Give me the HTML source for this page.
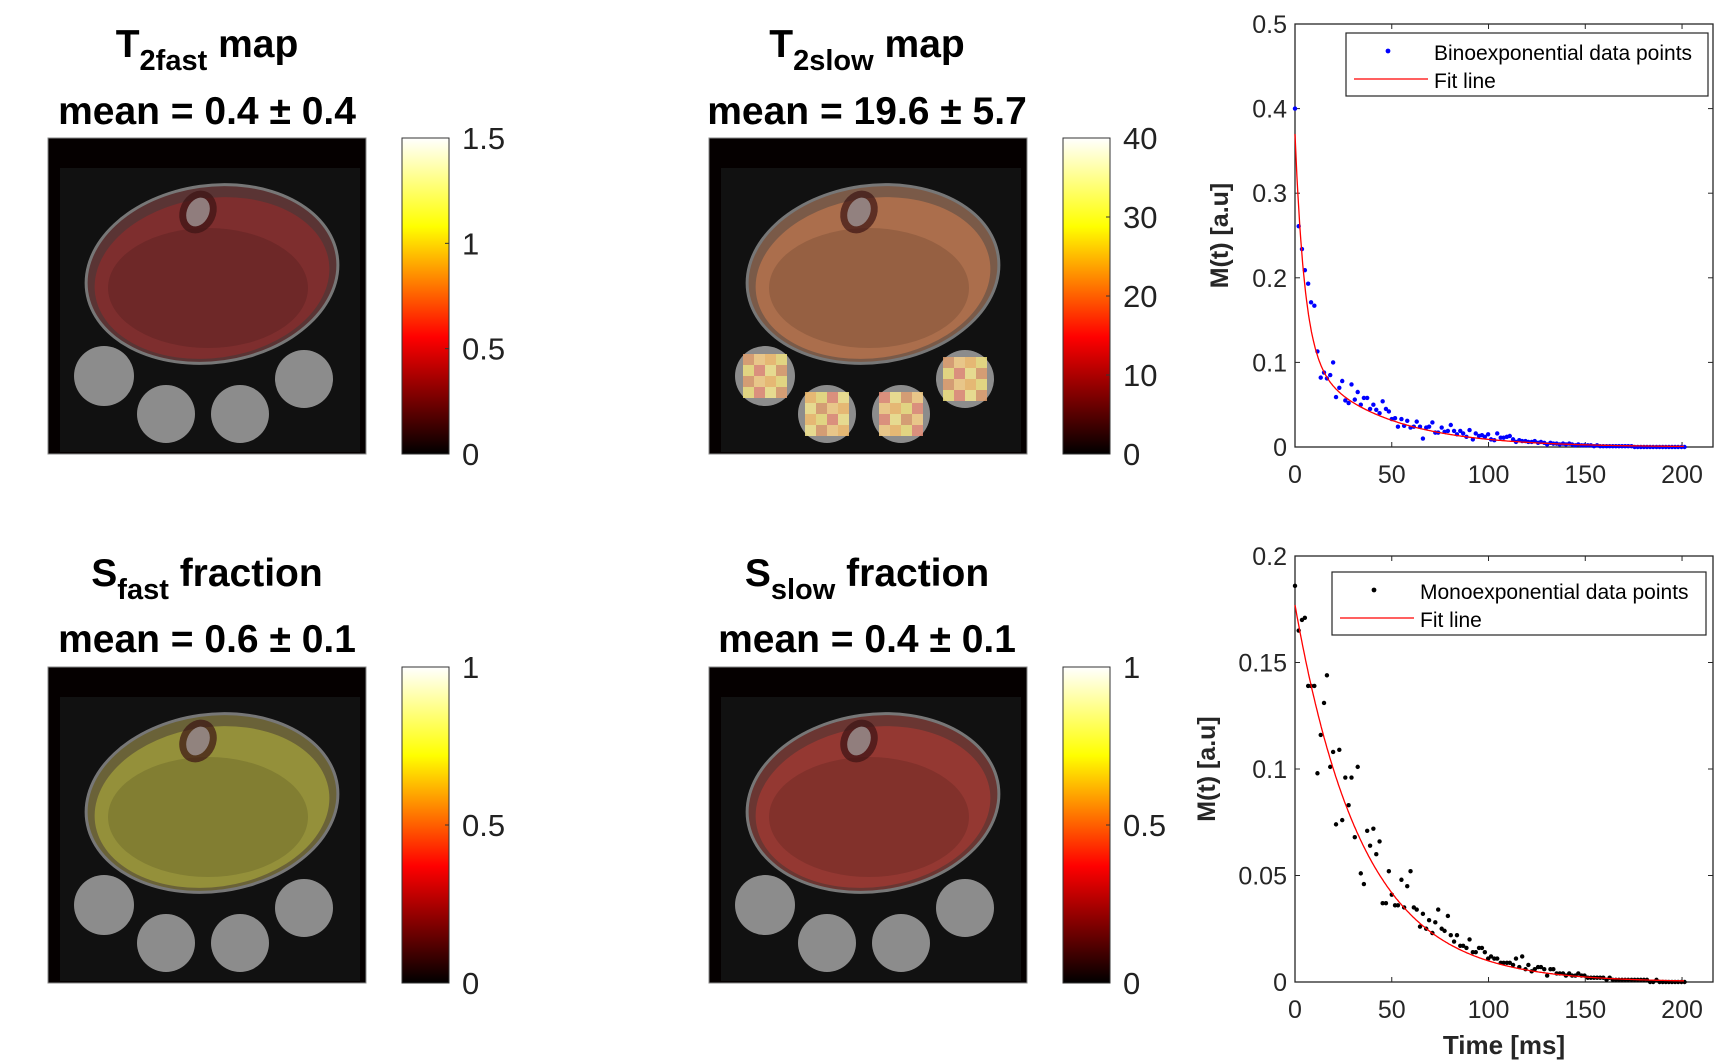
<!DOCTYPE html>
<html><head><meta charset="utf-8"><style>
html,body{margin:0;padding:0;background:#fff;}
svg{display:block;font-family:"Liberation Sans",sans-serif;}
</style></head><body>
<svg id="fig" width="1724" height="1063" viewBox="0 0 1724 1063" xmlns="http://www.w3.org/2000/svg">
<defs>
<linearGradient id="hot" x1="0" y1="1" x2="0" y2="0">
<stop offset="0" stop-color="#000"/><stop offset="0.37" stop-color="#ff0000"/><stop offset="0.72" stop-color="#ffff00"/><stop offset="1" stop-color="#ffffff"/>
</linearGradient>
</defs>
<g id="panels"></g>
<g id="charts"></g>
</svg>
<script>
// ---------------- chart data ----------------
const biTimes = [0,1.9,3.6,5.1,6.8,8.3,10,11.6,13.3,15,16.5,18.2,19.7,21.2,22.9,24.4,26,27.7,29.2,30.9,32.4,34,35.6,37.3,38.8,40.5,42,43.7,45.3,47,48.5,50,51.7,53.2,55,56.4,58,59.7,61.4,62.9,64.6,66.1,67.8,69.3,71,72.5,74,75.8,77.3,79,80.5,82.2,83.7,85.4,86.9,88.6,90.2,91.9,93.4,95.1,96.6,98.1,99.8,101.3,103,104.5,106.3,107.8,109.5,111,112.7,114.2,115.9,117.4,119.1,120.6,122.3,123.9,125.6,127.1,128.8,130.3,132,133.5,135.2,136.8,138.5,140,141.7,143.2,144.9,146.4,148.1,149.6,151.3,152.9,154.5,156.1,157.7,159.3,161,162.6,164.2,165.8,167.4,169,170.6,172.2,173.9,175.5,177.1,178.7,180.3,181.9,183.5,185.1,186.8,188.4,190,191.6,193.2,194.8,196.4,198,199.7,201.3];
const biValues = [0.4,0.261,0.234,0.209,0.193,0.171,0.167,0.113,0.082,0.088,0.081,0.085,0.1,0.059,0.07,0.078,0.055,0.052,0.074,0.056,0.065,0.05,0.058,0.058,0.045,0.05,0.044,0.04,0.054,0.045,0.042,0.033,0.034,0.024,0.033,0.025,0.031,0.023,0.024,0.03,0.024,0.01,0.023,0.024,0.029,0.017,0.017,0.023,0.018,0.019,0.026,0.019,0.015,0.019,0.016,0.012,0.02,0.009,0.016,0.013,0.014,0.012,0.015,0.009,0.008,0.016,0.011,0.011,0.012,0.013,0.009,0.006,0.008,0.007,0.007,0.006,0.006,0.007,0.005,0.006,0.005,0.003,0.005,0.004,0.004,0.003,0.004,0.003,0.004,0.003,0.002,0.003,0.002,0.002,0.002,0.002,0.001,0.002,0.001,0.001,0.001,0.001,0.001,0.001,0.001,0.001,0.001,0.001,0.001,0,0,0,0,0,0,0,0,0,0,0,0,0,0,0,0,0];
const biFit = [0.26,5,0.11,40]; // A1, T1, A2, T2
const monoTimes = [0,1.9,3.6,5.1,6.8,8.3,10,11.6,13.3,15,16.5,18.2,19.7,21.2,22.9,24.4,26,27.7,29.2,30.9,32.4,34,35.6,37.3,38.8,40.5,42,43.7,45.3,47,48.5,50,51.7,53.2,55,56.4,58,59.7,61.4,62.9,64.6,66.1,67.8,69.3,71,72.5,74,75.8,77.3,79,80.5,82.2,83.7,85.4,86.9,88.6,90.2,91.9,93.4,95.1,96.6,98.1,99.8,101.3,103,104.5,106.3,107.8,109.5,111,112.7,114.2,115.9,117.4,119.1,120.6,122.3,123.9,125.6,127.1,128.8,130.3,132,133.5,135.2,136.8,138.5,140,141.7,143.2,144.9,146.4,148.1,149.6,151.3,152.9,154.5,156.1,157.7,159.3,161,162.6,164.2,165.8,167.4,169,170.6,172.2,173.9,175.5,177.1,178.7,180.3,181.9,183.5,185.1,186.8,188.4,190,191.6,193.2,194.8,196.4,198,199.7,201.3];
const monoValues = [0.186,0.165,0.17,0.171,0.139,0.139,0.139,0.098,0.116,0.131,0.144,0.101,0.108,0.074,0.109,0.076,0.096,0.083,0.096,0.068,0.101,0.051,0.046,0.071,0.064,0.072,0.06,0.066,0.037,0.037,0.052,0.041,0.036,0.036,0.048,0.035,0.045,0.052,0.035,0.034,0.026,0.032,0.025,0.029,0.023,0.028,0.034,0.025,0.024,0.031,0.022,0.019,0.022,0.017,0.017,0.016,0.02,0.014,0.014,0.016,0.016,0.014,0.011,0.012,0.011,0.011,0.009,0.009,0.009,0.009,0.008,0.011,0.007,0.012,0.006,0.008,0.005,0.006,0.007,0.007,0.006,0.003,0.006,0.006,0.004,0.004,0.004,0.003,0.004,0.003,0.003,0.004,0.003,0.003,0.002,0.002,0.002,0.002,0.002,0.002,0.001,0.002,0.001,0.001,0.001,0.001,0.001,0.001,0.001,0.001,0.001,0.001,0.001,0.001,0,0,0.001,0,0,0,0,0,0,0,0,0];
const monoFit = [0.177,34.7]; // A, T
const xTicks = [0,50,100,150,200];
const topYTicks = [0,0.1,0.2,0.3,0.4,0.5];
const botYTicks = [0,0.05,0.1,0.15,0.2];
const topYLabels = ["0","0.1","0.2","0.3","0.4","0.5"];
const botYLabels = ["0","0.05","0.1","0.15","0.2"];

const NS="http://www.w3.org/2000/svg";
function mk(tag, attrs, parent){const e=document.createElementNS(NS,tag);for(const k in attrs)e.setAttribute(k,attrs[k]);if(parent)parent.appendChild(e);return e;}

// ---------------- image panels ----------------
const panels=document.getElementById('panels');
const panelDefs=[
 {x:48,y:138,cb:402,title:"T",sub:"2fast",rest:" map",mean:"mean = 0.4 \u00b1 0.4",ty:57,my:124,cx:207,legC:"#5a3434",ov:"rgba(170,40,40,0.45)",ticks:["0","0.5","1","1.5"],circ:"#8a8a8a",name:"t2fast"},
 {x:709,y:138,cb:1063,title:"T",sub:"2slow",rest:" map",mean:"mean = 19.6 \u00b1 5.7",ty:57,my:124,cx:867,legC:"#7a5a48",ov:"rgba(220,130,80,0.5)",ticks:["0","10","20","30","40"],circ:"hot",name:"t2slow"},
 {x:48,y:667,cb:402,title:"S",sub:"fast",rest:" fraction",mean:"mean = 0.6 \u00b1 0.1",ty:586,my:652,cx:207,legC:"#6a6238",ov:"rgba(190,190,60,0.5)",ticks:["0","0.5","1"],circ:"#8a8a8a",name:"sfast"},
 {x:709,y:667,cb:1063,title:"S",sub:"slow",rest:" fraction",mean:"mean = 0.4 \u00b1 0.1",ty:586,my:652,cx:867,legC:"#6a3632",ov:"rgba(200,60,50,0.45)",ticks:["0","0.5","1"],circ:"#8a8a8a",name:"sslow"}
];
const hotPal=["#f4c070","#f0e080","#e8907a","#f6e890","#e0a070","#f8d088"];
panelDefs.forEach(p=>{
 const g=mk('g',{},panels);
 
 
 const t=mk('text',{x:p.cx,y:p.ty,'text-anchor':'middle','font-size':39,'font-weight':'bold',fill:'#000'},g);
 
 
 t.appendChild(document.createTextNode(p.title));
 const s=mk('tspan',{dy:13,'font-size':29},t);s.textContent=p.sub;
 const r=mk('tspan',{dy:-13},t);r.textContent=p.rest;
 const m=mk('text',{x:p.cx,y:p.my,'text-anchor':'middle','font-size':39,'font-weight':'bold',fill:'#000'},g);
 
 
 m.textContent=p.mean;
 const img=mk('g',{transform:`translate(${p.x},${p.y})`},g);
 
 
 mk('rect',{x:0,y:0,width:318,height:316,fill:'#050000',stroke:'#888','stroke-width':1},img);
 mk('rect',{x:12,y:30,width:300,height:284,fill:'#111'},img);
 mk('ellipse',{cx:164,cy:136,rx:128,ry:90,fill:'#777',transform:'rotate(-8 164 136)'},img);
 mk('ellipse',{cx:164,cy:136,rx:125,ry:87,fill:p.legC,transform:'rotate(-8 164 136)'},img);
 mk('ellipse',{cx:164,cy:140,rx:118,ry:80,fill:p.ov,transform:'rotate(-8 164 140)'},img);
 mk('ellipse',{cx:160,cy:150,rx:100,ry:60,fill:'rgba(0,0,0,0.12)'},img);
 mk('ellipse',{cx:150,cy:74,rx:18,ry:22,fill:'rgba(60,20,20,0.7)',transform:'rotate(25 150 74)'},img);
 mk('ellipse',{cx:150,cy:74,rx:11,ry:15,fill:'rgba(160,150,150,0.8)',transform:'rotate(25 150 74)'},img);
 [[56,238,30],[118,276,29],[192,276,29],[256,241,29]].forEach((c,i)=>{
  mk('circle',{cx:c[0],cy:c[1],r:c[2],fill:'#8c8c8c'},img);
  if(p.circ==='hot'){
   for(let a=-2;a<2;a++)for(let b=-2;b<2;b++){
    mk('rect',{x:c[0]+a*11,y:c[1]+b*11,width:11,height:11,fill:hotPal[(a+b*3+i*2+12)%6],opacity:0.85},img);
   }
  }
 });
 const cb=mk('g',{},g);
 
 
 mk('rect',{x:p.cb,y:p.y,width:47,height:316,fill:'url(#hot)',stroke:'#333','stroke-width':1},cb);
 const n=p.ticks.length-1;
 p.ticks.forEach((tk,i)=>{
  const yy=p.y+316-316*i/n;
  mk('line',{x1:p.cb+43,x2:p.cb+47,y1:yy,y2:yy,stroke:'#333'},cb);
  const tl=mk('text',{x:p.cb+60,y:yy+11,'font-size':31,fill:'#222'},cb);
  
  
  tl.textContent=tk;
 });
});

// ---------------- charts ----------------
const charts=document.getElementById('charts');
function drawChart(cfg){
 const {L,R,T,B,xmax,ymax,times,vals,fitFn,yTicks,yLabels,color,legend,lg,name,xlabel}=cfg;
 const g=mk('g',{},charts);
 
 
 const sx=v=>L+(R-L)*v/xmax, sy=v=>B-(B-T)*v/ymax;
 mk('rect',{x:L,y:T,width:R-L,height:B-T,fill:'#fff',stroke:'#262626','stroke-width':1.3},g);
 xTicks.forEach(v=>{
  mk('line',{x1:sx(v),x2:sx(v),y1:B,y2:B-5,stroke:'#262626'},g);
  mk('line',{x1:sx(v),x2:sx(v),y1:T,y2:T+5,stroke:'#262626'},g);
  const t=mk('text',{x:sx(v),y:B+36,'text-anchor':'middle','font-size':25,fill:'#262626'},g);
  
  
  t.textContent=String(v);
 });
 yTicks.forEach((v,i)=>{
  mk('line',{x1:L,x2:L+5,y1:sy(v),y2:sy(v),stroke:'#262626'},g);
  mk('line',{x1:R,x2:R-5,y1:sy(v),y2:sy(v),stroke:'#262626'},g);
  const t=mk('text',{x:L-8,y:sy(v)+9,'text-anchor':'end','font-size':25,fill:'#262626'},g);
  
  
  t.textContent=yLabels[i];
 });
 const yl=mk('text',{x:0,y:0,transform:`translate(${cfg.ylx},${(T+B)/2}) rotate(-90)`,'text-anchor':'middle','font-size':25,'font-weight':'bold',fill:'#262626'},g);
 
 
 yl.textContent='M(t) [a.u]';
 if(xlabel){
  const xl=mk('text',{x:(L+R)/2,y:B+72,'text-anchor':'middle','font-size':26,'font-weight':'bold',fill:'#262626'},g);
  
  
  xl.textContent=xlabel;
 }
 times.forEach((t,i)=>{
  const c=mk('circle',{cx:sx(t),cy:sy(vals[i]),r:2.2,fill:color},g);
  
  
 });
 let d='';
 for(let t=0;t<=times[times.length-1];t+=0.5){d+=(d?'L':'M')+sx(t).toFixed(1)+','+sy(fitFn(t)).toFixed(1);}
 const fl=mk('path',{d:d,fill:'none',stroke:'#ff0000','stroke-width':1.3},g);
 
 
 const lgG=mk('g',{},g);
 
 
 mk('rect',{x:lg[0],y:lg[1],width:lg[2],height:lg[3],fill:'#fff',stroke:'#262626','stroke-width':1.2},lgG);
 mk('circle',{cx:lg[0]+42,cy:lg[1]+18,r:2.4,fill:color},lgG);
 const l1=mk('text',{x:lg[0]+88,y:lg[1]+27,'font-size':21,fill:'#000'},lgG);
 
 
 l1.textContent=legend;
 mk('line',{x1:lg[0]+8,x2:lg[0]+82,y1:lg[1]+46,y2:lg[1]+46,stroke:'#ff0000','stroke-width':1.3},lgG);
 const l2=mk('text',{x:lg[0]+88,y:lg[1]+55,'font-size':21,fill:'#000'},lgG);
 
 
 l2.textContent='Fit line';
}
drawChart({name:'biexponential-chart',L:1295,R:1713,T:24,B:447,xmax:216,ymax:0.5,times:biTimes,vals:biValues,
 fitFn:t=>biFit[0]*Math.exp(-t/biFit[1])+biFit[2]*Math.exp(-t/biFit[3]),yTicks:topYTicks,yLabels:topYLabels,color:'#0000ff',
 legend:'Binoexponential data points',lg:[1346,33,362,63],ylx:1228});
drawChart({name:'monoexponential-chart',L:1295,R:1713,T:556,B:982,xmax:216,ymax:0.2,times:monoTimes,vals:monoValues,
 fitFn:t=>monoFit[0]*Math.exp(-t/monoFit[1]),yTicks:botYTicks,yLabels:botYLabels,color:'#000000',
 legend:'Monoexponential data points',lg:[1332,572,374,63],ylx:1215,xlabel:'Time [ms]'});
</script>
</body></html>
